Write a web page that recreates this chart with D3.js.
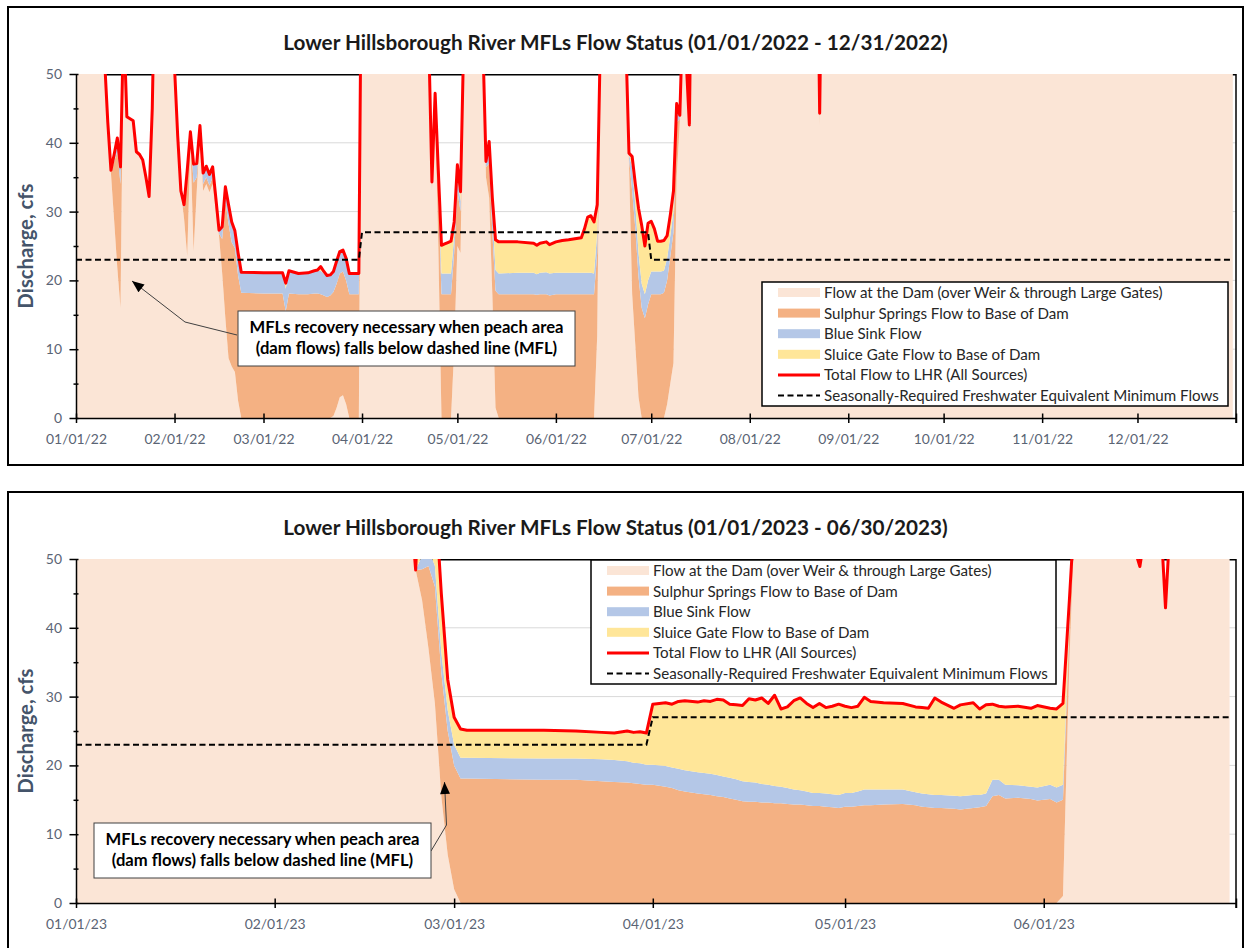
<!DOCTYPE html>
<html>
<head>
<meta charset="utf-8">
<script src="https://cdn.jsdelivr.net/npm/d3@7"></script>
<style>
  body { margin: 0; background: #fff; }
  svg { display: block; }
  text { font-family: Lato, "Open Sans", sans-serif; }
</style>
</head>
<body>
<div id="chart-area"></div>
<script>
// ---- 2022 panel: daily flows (cfs); 80 = off the chart
var dates22 = [
  "2022-01-01","2022-01-09","2022-01-10","2022-01-11","2022-01-12","2022-01-13","2022-01-14","2022-01-15","2022-01-16","2022-01-17",
  "2022-01-18","2022-01-19","2022-01-20","2022-01-21","2022-01-22","2022-01-23","2022-01-24","2022-01-25","2022-01-26","2022-01-27",
  "2022-01-31","2022-02-01","2022-02-02","2022-02-03","2022-02-04","2022-02-05","2022-02-06","2022-02-07","2022-02-08","2022-02-09",
  "2022-02-10","2022-02-11","2022-02-12","2022-02-13","2022-02-14","2022-02-15","2022-02-16","2022-02-17","2022-02-18","2022-02-19",
  "2022-02-20","2022-02-21","2022-02-22","2022-03-01","2022-03-07","2022-03-08","2022-03-09","2022-03-12","2022-03-15","2022-03-17",
  "2022-03-18","2022-03-19","2022-03-20","2022-03-21","2022-03-22","2022-03-23","2022-03-24","2022-03-25","2022-03-26","2022-03-27",
  "2022-03-28","2022-03-31","2022-04-01","2022-04-21","2022-04-22","2022-04-23","2022-04-24","2022-04-25","2022-04-26","2022-04-27",
  "2022-04-28","2022-04-29","2022-04-30","2022-05-01","2022-05-02","2022-05-03","2022-05-04","2022-05-08","2022-05-09","2022-05-10",
  "2022-05-11","2022-05-12","2022-05-13","2022-05-14","2022-05-20","2022-05-25","2022-05-26","2022-05-27","2022-05-29","2022-05-30",
  "2022-06-01","2022-06-03","2022-06-05","2022-06-09","2022-06-10","2022-06-11","2022-06-12","2022-06-13","2022-06-14","2022-06-15",
  "2022-06-16","2022-06-22","2022-06-23","2022-06-24","2022-06-25","2022-06-26","2022-06-27","2022-06-28","2022-06-29","2022-06-30",
  "2022-07-01","2022-07-02","2022-07-03","2022-07-04","2022-07-05","2022-07-06","2022-07-07","2022-07-08","2022-07-09","2022-07-10",
  "2022-07-11","2022-07-12","2022-07-13","2022-07-14","2022-08-22","2022-08-23","2022-08-24","2022-12-31"
];
var dam22 = [
  80,80,52,43,35.5,28.7,21.8,16,58,43.8,
  43.5,43.2,38.7,38.3,37.5,35,32.2,45,70,80,
  80,51,41,33,29,23.5,40,24.2,33,41,
  33,34,32.8,34,30,26.5,21,14.5,8.7,7.5,
  6.7,2.5,0,0,0,0,0,0,0,0,
  0,0,0,0,0,0.3,1.5,3.0,3.3,2.0,
  0,0,80,80,55,33,45,25,0,0,
  0,0,10,25,24,55,80,80,55,35,
  32,18,1.5,0,0,0,0,0,0,0,
  0,0,0,0,0,0,0,0,12,55,
  80,80,55,37,18,10.5,3,0,0,0,
  0,0,0,0,0,2,5,8,35,43,
  60,52,42,80,80,42.5,80,80
];
var sulphur22 = [
  0,0,0,0,0.3,8.6,16.9,18,0,0,
  0,0,0,0,0,0,0,0,0,0,
  0,0,0,0,1.5,11,1.2,10,2,1,
  1,1,1,1,0.8,0.3,5,17,19.5,18,
  18,18.2,18.2,18.1,18.1,15.5,18.1,18.0,18.0,18.1,
  18.1,18.0,17.8,17.6,17.8,18,18,18,18,18,
  18,18,0,0,0,1,1.5,8,18,18,
  18,18,14,8,6,0,0,0,0,1.5,
  5,9,17,18,18,18,17.9,18,18,17.8,
  18,18,18,18,18,18,18,18,12,0,
  0,0,0,0.8,15,17,17.5,16,14.5,16.5,
  18,18,18,18,18.2,18,18.5,19,8,0.5,
  0,0,0.6,0,0,1.8,0,0
];
var blue22 = [
  0,0,0,0,0.2,1.0,2.0,2.5,0,0,
  0,0,0,0,0,0,0,0,0,0,
  0,0,0,0,0.5,1.5,0.4,2.7,2,0.5,
  1.6,1.6,1.6,1.5,1.2,0.5,1.8,2.1,2.8,3,
  2.5,3.3,3.0,3.0,3.0,3.3,3.2,3.0,3.1,3.3,
  3.3,3.4,3.2,3.1,3.0,3.0,3.3,3.2,3.1,3.2,
  3.0,3.0,0,0,0,0.3,0.5,1.5,3,3,
  3,3,2.5,2,1.5,0,0,0,0,0.8,
  2.5,3,3,3,3.1,3.1,3.0,3.1,3.2,3.2,
  3.1,3.1,3.1,3.1,3.1,3.1,3.1,3.0,3,0,
  0,0,0,0.5,3.5,3.5,3.5,3.5,3.5,3.5,
  3.3,3.3,3.3,3.3,3.2,3.2,3,3,1.5,0.3,
  0,0,0,0,0,0,0,0
];
var sluice22 = [
  0,0,0,0,0,0,0,0,0,0,
  0,0,0,0,0,0,0,0,0,0,
  0,0,0,0,0,0,0,0,0,0,
  0,0,0,0,0,0,0,0,0,0,
  0,0,0,0,0,0.8,0.1,0,0,0,
  0.1,0.6,0.3,0,0,0,0,0,0,0,
  0,0,0,0,0,0,0.2,1.5,4.1,4.3,
  4.5,4.7,2,1.8,1.4,0,0,0,0,0,
  0.7,2,4.4,4.6,4.5,4.3,4.2,4.3,4.4,4.2,
  4.5,4.7,4.8,5.1,6.4,8.1,8.3,7.5,4,0,
  0,0,0,0.2,1.5,3,6.5,8.5,7,8.3,
  7.3,6.2,4.4,4.4,4.4,3.3,3,3,1.2,0.2,
  0,0,0,0,0,0,0,0
];
var mflDates22 = ["2022-01-01","2022-03-31","2022-04-01","2022-06-30","2022-07-01","2022-12-31"];
var mflValues22 = [23,23,27,27,23,23];

// ---- 2023 panel
var dates23 = [
  "2023-01-01","2023-02-21","2023-02-22","2023-02-23","2023-02-24","2023-02-25","2023-02-26","2023-02-27","2023-02-28","2023-03-01",
  "2023-03-02","2023-03-03","2023-03-15","2023-03-20","2023-03-24","2023-03-26","2023-03-28","2023-03-29","2023-03-30","2023-03-31",
  "2023-04-01","2023-04-03","2023-04-04","2023-04-05","2023-04-06","2023-04-08","2023-04-09","2023-04-10","2023-04-11","2023-04-12",
  "2023-04-13","2023-04-14","2023-04-15","2023-04-16","2023-04-17","2023-04-18","2023-04-19","2023-04-20","2023-04-21","2023-04-22",
  "2023-04-23","2023-04-24","2023-04-25","2023-04-26","2023-04-27","2023-04-28","2023-04-29","2023-04-30","2023-05-01","2023-05-02",
  "2023-05-03","2023-05-04","2023-05-05","2023-05-07","2023-05-10","2023-05-12","2023-05-13","2023-05-14","2023-05-15","2023-05-16",
  "2023-05-18","2023-05-19","2023-05-21","2023-05-22","2023-05-23","2023-05-24","2023-05-25","2023-05-26","2023-05-28","2023-05-30",
  "2023-05-31","2023-06-02","2023-06-03","2023-06-04","2023-06-05","2023-06-06","2023-06-07","2023-06-15","2023-06-16","2023-06-17",
  "2023-06-18","2023-06-19","2023-06-20","2023-06-21","2023-06-22","2023-06-30"
];
var dam23 = [
  80,80,60,48.4,44,37,29,15.5,7,2,
  0,0,0,0,0,0,0,0,0,0,
  0,0,0,0,0,0,0,0,0,0,
  0,0,0,0,0,0,0,0,0,0,
  0,0,0,0,0,0,0,0,0,0,
  0,0,0,0,0,0,0,0,0,0,
  0,0,0,0,0,0,0,0,0,0,
  0,0,0,1,35,60,80,52,48.9,55,
  80,60,42.9,60,80,80
];
var sulphur23 = [
  0,0,0,0,4.5,12,17,18,18,18,
  18.1,18.1,17.9,17.9,17.7,17.6,17.5,17.4,17.3,17.2,
  17.2,16.9,16.7,16.4,16.2,15.9,15.8,15.7,15.5,15.4,
  15.2,15.0,14.8,14.7,14.7,14.6,14.6,14.5,14.5,14.4,
  14.3,14.3,14.2,14.1,14.1,14.0,13.9,13.8,14.0,14.0,
  14.1,14.2,14.2,14.3,14.4,14.2,14.0,13.9,13.8,13.8,
  13.7,13.6,13.8,13.9,14.1,15.5,15.7,15.2,15.3,15.1,
  14.9,15.1,14.6,14.0,5,0,0,0,0,0,
  0,0,0,0,0,0
];
var blue23 = [
  0,0,0,0,2,2.5,3,3,3,3,
  3.0,3.0,3.1,3.1,3.2,3.2,3.1,3.0,3.0,2.9,
  2.9,3.0,3.0,3.1,3.1,3.1,3.1,3.1,3.1,3.0,
  3.0,3.0,2.9,2.9,2.8,2.7,2.6,2.5,2.4,2.3,
  2.2,2.1,2.0,1.9,1.9,1.9,1.9,1.9,2.0,2.0,
  2.1,2.3,2.3,2.2,2.1,1.9,1.9,1.9,1.9,1.9,
  1.9,1.9,1.9,1.8,1.8,2.4,2.2,2.0,1.8,1.8,
  1.9,2.1,2.2,2.2,1,0,0,0,0,0,
  0,0,0,0,0,0
];
var sluice23 = [
  0,0,0,0,20,15,11,8.5,4.5,4,
  4.2,4.0,4.1,4.0,3.9,3.9,4.4,4.4,4.6,4.6,
  8.8,9.2,9.2,9.8,10.1,10.2,10.5,10.5,11.0,11.1,
  10.7,10.8,11.0,12.1,12.0,12.5,11.8,13.2,11.3,11.8,
  12.9,13.4,12.8,12.4,13.0,12.5,12.8,13.2,12.6,12.4,
  12.4,13.4,12.8,12.6,12.5,12.4,12.5,12.5,14.1,13.5,
  12.7,13.3,13.4,12.5,12.9,11.0,10.7,11.3,11.5,11.4,
  11.9,11.1,11.4,11.8,3,0,0,0,0,0,
  0,0,0,0,0,0
];
var mflDates23 = ["2023-01-01","2023-03-31","2023-04-01","2023-06-30"];
var mflValues23 = [23,23,27,27];

var yTicks = [0,10,20,30,40,50];
var yMinorTicks = [5,15,25,35,45];

var legendLabels = [
  "Flow at the Dam (over Weir & through Large Gates)",
  "Sulphur Springs Flow to Base of Dam",
  "Blue Sink Flow",
  "Sluice Gate Flow to Base of Dam",
  "Total Flow to LHR (All Sources)",
  "Seasonally-Required Freshwater Equivalent Minimum Flows"
];
var noteLines = ["MFLs recovery necessary when peach area", "(dam flows) falls below dashed line (MFL)"];

var keys = ["dam","sulphur","blue","sluice"];
var colors = { dam: "#FBE5D6", sulphur: "#F4B183", blue: "#B4C7E7", sluice: "#FFE699" };
var parseDate = d3.timeParse("%Y-%m-%d");
var fmtTick = d3.timeFormat("%m/%d/%y");

var svg = d3.select("#chart-area")
  .append("svg")
    .attr("width", 1250)
    .attr("height", 948);

var defs = svg.append("defs");
defs.append("marker")
  .attr("id", "arrow")
  .attr("markerUnits", "userSpaceOnUse")
  .attr("viewBox", "0 0 12 10")
  .attr("markerWidth", 13)
  .attr("markerHeight", 10)
  .attr("refX", 12)
  .attr("refY", 5)
  .attr("orient", "auto")
  .append("path")
    .attr("d", "M0,0 L12,5 L0,10 z")
    .attr("fill", "#000");

// font sizes fitted to the widths measured on the picture
function fitSize(str, weight, target) {
  var t = svg.append("text").attr("font-weight", weight).style("font-size", "20px").text(str);
  var w = t.node().getComputedTextLength();
  t.remove();
  return 20 * target / w;
}
var titleSize = fitSize("Lower Hillsborough River MFLs Flow Status (01/01/2022 - 12/31/2022)", "bold", 665);
var legendSize = fitSize(legendLabels[0], "normal", 339);
var noteSize = fitSize(noteLines[0], "bold", 314);
var tickSize = fitSize("01/01/22", "normal", 61);
var ytitleSize = fitSize("Discharge, cfs", "bold", 125);

function drawPanel(p) {
  var left = 76, right = 1236, top = p.top, bottom = p.top + 344;
  var g = svg.append("g");

  g.append("rect")
    .attr("x", 8).attr("y", top - 67)
    .attr("width", 1235).attr("height", p.boxH)
    .attr("fill", "#fff").attr("stroke", "#000").attr("stroke-width", 2);

  g.append("text")
    .attr("x", 615.5).attr("y", top - 24)
    .attr("text-anchor", "middle")
    .attr("font-weight", "bold")
    .style("font-size", titleSize + "px")
    .attr("fill", "#1a1a1a")
    .text(p.title);

  var x = d3.scaleTime()
    .domain([parseDate(p.start), parseDate(p.end)])
    .range([left, right]);
  var y = d3.scaleLinear()
    .domain([0, 50])
    .range([bottom, top]);

  // gridlines
  g.selectAll(".grid")
    .data(yTicks.slice(1, 5))
    .enter().append("line")
      .attr("x1", left).attr("x2", right)
      .attr("y1", d => y(d)).attr("y2", d => y(d))
      .attr("stroke", "#D9D9D9").attr("stroke-width", 1);

  g.append("line")
    .attr("x1", left).attr("x2", right)
    .attr("y1", top + 0.75).attr("y2", top + 0.75)
    .attr("stroke", "#000").attr("stroke-width", 1.5);

  var clipId = "clip" + p.top;
  defs.append("clipPath").attr("id", clipId)
    .append("rect").attr("x", left).attr("y", top).attr("width", right - left).attr("height", bottom - top);

  var rows = p.dates.map((d, i) => ({
    date: parseDate(d), dam: p.dam[i], sulphur: p.sulphur[i], blue: p.blue[i], sluice: p.sluice[i]
  }));
  var series = d3.stack().keys(keys)(rows);

  var area = d3.area()
    .x(d => x(d.data.date))
    .y0(d => y(d[0]))
    .y1(d => y(d[1]));

  var plot = g.append("g").attr("clip-path", "url(#" + clipId + ")");
  plot.selectAll(".layer")
    .data(series)
    .enter().append("path")
      .attr("d", area)
      .attr("fill", d => colors[d.key]);

  var totalLine = d3.line()
    .x(d => x(d.data.date))
    .y(d => y(d[1]));
  plot.append("path")
    .datum(series[3])
    .attr("d", totalLine)
    .attr("fill", "none")
    .attr("stroke", "#FF0000")
    .attr("stroke-width", 3)
    .attr("stroke-linejoin", "round");

  var mfl = p.mflDates.map((d, i) => ({ date: parseDate(d), v: p.mflValues[i] }));
  plot.append("path")
    .datum(mfl)
    .attr("d", d3.line().x(d => x(d.date)).y(d => y(d.v)))
    .attr("fill", "none")
    .attr("stroke", "#000")
    .attr("stroke-width", 2)
    .attr("stroke-dasharray", "6,3.5");

  // right border of plot
  g.append("line")
    .attr("x1", right).attr("x2", right)
    .attr("y1", top).attr("y2", bottom + 5)
    .attr("stroke", "#000").attr("stroke-width", 1.5);

  // axes
  var yAxis = g.append("g")
    .attr("transform", "translate(" + left + ",0)")
    .call(d3.axisLeft(y).tickValues(yTicks).tickSizeOuter(0).tickPadding(0));
  yAxis.select(".domain").attr("stroke", "#000").attr("stroke-width", 1.5);
  yAxis.selectAll(".tick line").attr("x1", 2.5).attr("x2", -6.5).attr("stroke", "#000").attr("stroke-width", 1.5);
  yAxis.selectAll(".tick text")
    .attr("x", -14)
    .style("font-size", tickSize + "px")
    .attr("font-family", null)
    .attr("fill", "#5A6474");

  var yMinor = g.append("g")
    .attr("transform", "translate(" + left + ",0)")
    .call(d3.axisLeft(y).tickValues(yMinorTicks).tickFormat("").tickSizeOuter(0));
  yMinor.select(".domain").remove();
  yMinor.selectAll(".tick line").attr("x1", 2.5).attr("x2", -2.5).attr("stroke", "#000").attr("stroke-width", 1.5);

  var monthTicks = d3.timeMonth.range(parseDate(p.start), parseDate(p.end)).concat([parseDate(p.end)]);
  var last = monthTicks.length - 1;
  var xAxis = g.append("g")
    .attr("transform", "translate(0," + bottom + ")")
    .call(d3.axisBottom(x).tickValues(monthTicks)
      .tickFormat((d, i) => i === last ? "" : fmtTick(d))
      .tickSizeOuter(0));
  xAxis.select(".domain").attr("stroke", "#000").attr("stroke-width", 1.5);
  xAxis.selectAll(".tick line").attr("y1", -4.5).attr("y2", 5).attr("stroke", "#000").attr("stroke-width", 1.5);
  xAxis.selectAll(".tick text")
    .attr("y", 16)
    .style("font-size", tickSize + "px")
    .attr("font-family", null)
    .attr("fill", "#5A6474");

  g.append("text")
    .attr("transform", "translate(33," + ((top + bottom) / 2) + ") rotate(-90)")
    .attr("text-anchor", "middle")
    .attr("font-weight", "bold")
    .style("font-size", ytitleSize + "px")
    .attr("fill", "#44546A")
    .text("Discharge, cfs");

  // legend
  var L = p.legend;
  var lg = g.append("g");
  lg.append("rect")
    .attr("x", L.x).attr("y", L.y).attr("width", L.w).attr("height", L.h)
    .attr("fill", "#fff").attr("stroke", "#000").attr("stroke-width", 1.5);
  legendLabels.forEach((lab, i) => {
    var cy = L.y + 10.5 + i * 20.6;
    if (i < 4) {
      lg.append("rect")
        .attr("x", L.x + 16).attr("y", cy - 4.5).attr("width", 42).attr("height", 9)
        .attr("fill", colors[keys[i]]);
    } else {
      lg.append("line")
        .attr("x1", L.x + 16).attr("x2", L.x + 58)
        .attr("y1", cy).attr("y2", cy)
        .attr("stroke", i === 4 ? "#FF0000" : "#000")
        .attr("stroke-width", i === 4 ? 3 : 2)
        .attr("stroke-dasharray", i === 4 ? null : "6,3.5");
    }
    lg.append("text")
      .attr("x", L.x + 62).attr("y", cy + legendSize * 0.36)
      .style("font-size", legendSize + "px")
      .attr("fill", "#262626")
      .text(lab);
  });

  // annotation
  var N = p.note;
  g.append("path")
    .attr("d", N.arrow)
    .attr("fill", "none")
    .attr("stroke", "#404040")
    .attr("stroke-width", 1)
    .attr("marker-end", "url(#arrow)");
  g.append("rect")
    .attr("x", N.x).attr("y", N.y).attr("width", N.w).attr("height", N.h)
    .attr("fill", "#fff").attr("stroke", "#404040").attr("stroke-width", 1);
  noteLines.forEach((t, i) => {
    g.append("text")
      .attr("x", N.x + N.w / 2).attr("y", N.y + 22 + i * 21)
      .attr("text-anchor", "middle")
      .attr("font-weight", "bold")
      .style("font-size", noteSize + "px")
      .attr("fill", "#000")
      .text(t);
  });
}

drawPanel({
  top: 74, boxH: 458,
  title: "Lower Hillsborough River MFLs Flow Status (01/01/2022 - 12/31/2022)",
  start: "2022-01-01", end: "2023-01-01",
  dates: dates22, dam: dam22, sulphur: sulphur22, blue: blue22, sluice: sluice22,
  mflDates: mflDates22, mflValues: mflValues22,
  legend: { x: 762, y: 282, w: 466, h: 124 },
  note: { x: 238, y: 311, w: 337, h: 55, arrow: "M237,335 L185,322 L132,281" }
});

drawPanel({
  top: 559, boxH: 470,
  title: "Lower Hillsborough River MFLs Flow Status (01/01/2023 - 06/30/2023)",
  start: "2023-01-01", end: "2023-07-01",
  dates: dates23, dam: dam23, sulphur: sulphur23, blue: blue23, sluice: sluice23,
  mflDates: mflDates23, mflValues: mflValues23,
  legend: { x: 591, y: 560, w: 465, h: 124 },
  note: { x: 94, y: 823, w: 337, h: 55, arrow: "M431,851 L446.5,825 L444.5,782" }
});
</script>
</body>
</html>
